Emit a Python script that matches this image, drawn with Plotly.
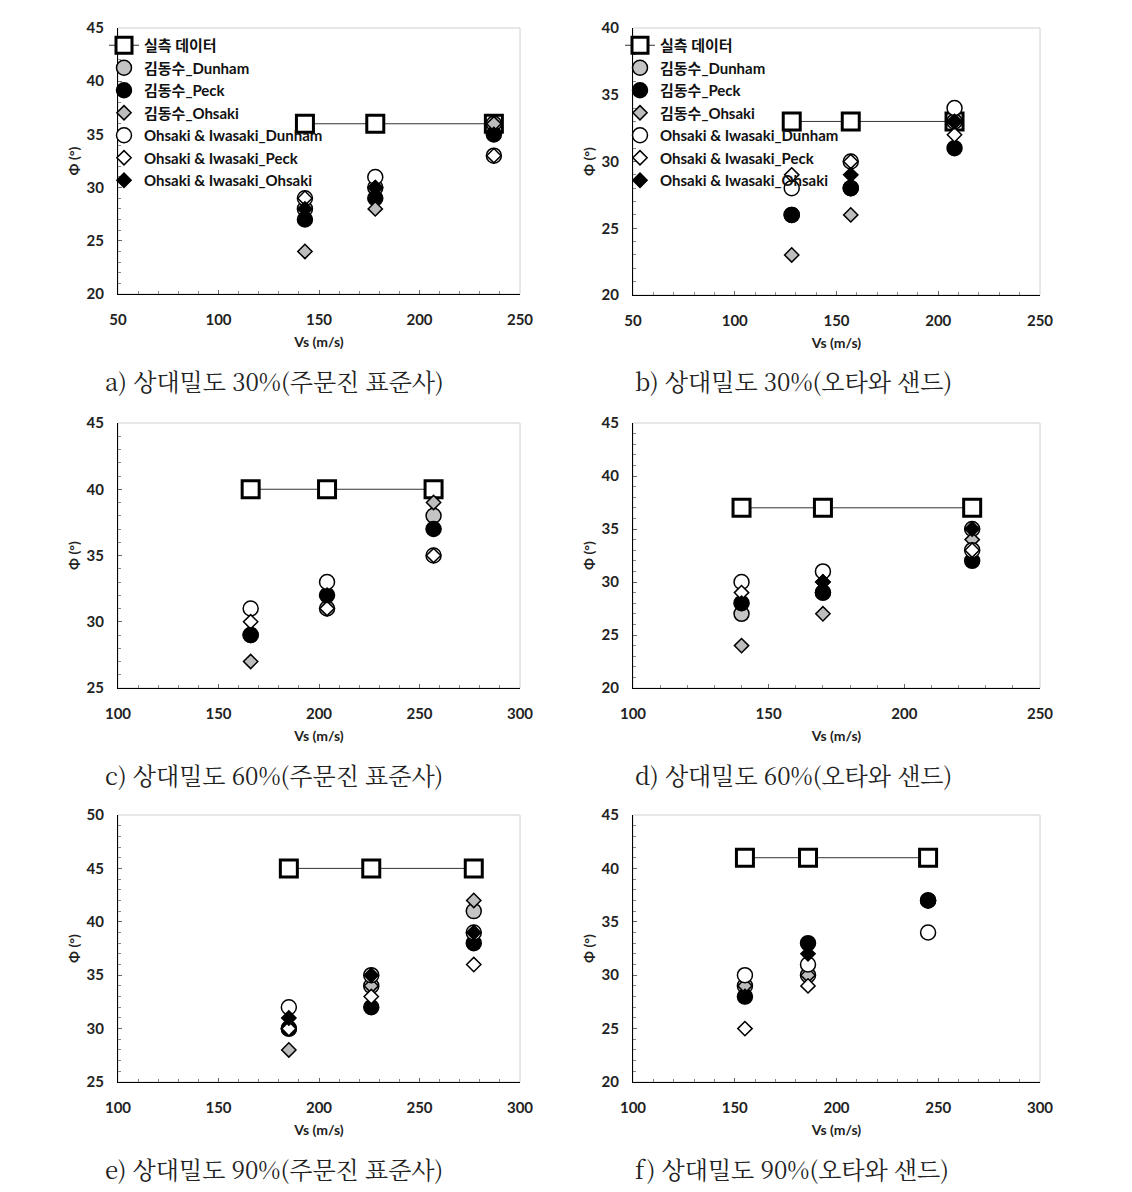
import plotly.graph_objects as go

series_names = ["실측 데이터", "김동수_Dunham", "김동수_Peck", "김동수_Ohsaki",
                "Ohsaki & Iwasaki_Dunham", "Ohsaki & Iwasaki_Peck", "Ohsaki & Iwasaki_Ohsaki"]

# a) Dr 30% Jumunjin
vs_a = [143, 178, 237]
phi_a = [[36, 36, 36], [28, 30, 36], [27, 29, 35], [24, 28, 36],
         [29, 31, 33], [29, 30, 33], [28, 30, 35]]
# b) Dr 30% Ottawa
vs_b = [128, 157, 208]
phi_b = [[33, 33, 33], [26, 28, 33], [26, 28, 31], [23, 26, 33],
         [28, 30, 34], [29, 30, 32], [26, 29, 33]]
# c) Dr 60% Jumunjin
vs_c = [166, 204, 257]
phi_c = [[40, 40, 40], [29, 31, 38], [29, 32, 37], [27, 31, 39],
         [31, 33, 35], [30, 31, 35], [29, 32, 37]]
# d) Dr 60% Ottawa
vs_d = [140, 170, 225]
phi_d = [[37, 37, 37], [27, 29, 35], [28, 29, 32], [24, 27, 34],
         [30, 31, 33], [29, 30, 33], [28, 30, 35]]
# e) Dr 90% Jumunjin
vs_e = [185, 226, 277]
phi_e = [[45, 45, 45], [30, 34, 41], [30, 32, 38], [28, 34, 42],
         [32, 35, 39], [30, 33, 36], [31, 35, 39]]
# f) Dr 90% Ottawa
vs_f = [155, 186, 245]
phi_f = [[41, 41, 41], [29, 30, 37], [28, 33, 37], [29, 30, 37],
         [30, 31, 34], [25, 29, 37], [28, 32, 37]]

captions = ["a) 상대밀도 30%(주문진 표준사)", "b) 상대밀도 30%(오타와 샌드)",
            "c) 상대밀도 60%(주문진 표준사)", "d) 상대밀도 60%(오타와 샌드)",
            "e) 상대밀도 90%(주문진 표준사)", "f) 상대밀도 90%(오타와 샌드)"]

W, H = 1132, 1192
OFF = 8  # page body margin


def fx(px):
    return (px - OFF) / W


def fy(px):
    return 1 - (px - OFF) / H


styles = [
    dict(symbol="square", color="white", size=17, lw=3),
    dict(symbol="circle", color="#c4c4c4", size=15, lw=1.5),
    dict(symbol="circle", color="black", size=15, lw=1.5),
    dict(symbol="diamond", color="#bdbdbd", size=11, lw=1.5),
    dict(symbol="circle", color="white", size=15, lw=1.5),
    dict(symbol="diamond", color="white", size=11, lw=1.5),
    dict(symbol="diamond", color="black", size=11, lw=1.5),
]

panels = [
    dict(vs=vs_a, phi=phi_a, xr=[50, 250], yr=[20, 45], box=(118, 520, 28, 294), cap_x=103),
    dict(vs=vs_b, phi=phi_b, xr=[50, 250], yr=[20, 40], box=(633, 1040, 28, 295), cap_x=633),
    dict(vs=vs_c, phi=phi_c, xr=[100, 300], yr=[25, 45], box=(118, 520, 423, 688), cap_x=103),
    dict(vs=vs_d, phi=phi_d, xr=[100, 250], yr=[20, 45], box=(633, 1040, 423, 688), cap_x=633),
    dict(vs=vs_e, phi=phi_e, xr=[100, 300], yr=[25, 50], box=(118, 520, 815, 1082), cap_x=103),
    dict(vs=vs_f, phi=phi_f, xr=[100, 300], yr=[20, 45], box=(633, 1040, 815, 1082), cap_x=633),
]

tick_font = dict(family="Lato, Noto Sans CJK KR", size=15, color="#222", weight="bold")
title_font = dict(family="Lato, Noto Sans CJK KR", size=14, color="#222", weight="bold")

fig = go.Figure()

for i, p in enumerate(panels):
    n = "" if i == 0 else str(i + 1)
    xa, ya = "x" + n, "y" + n
    for j, name in enumerate(series_names):
        st = styles[j]
        fig.add_trace(go.Scatter(
            x=p["vs"], y=p["phi"][j], xaxis=xa, yaxis=ya, name=name,
            mode="lines+markers" if j == 0 else "markers",
            line=dict(color="#333", width=1),
            marker=dict(symbol=st["symbol"], size=st["size"], color=st["color"],
                        line=dict(color="black", width=st["lw"])),
            showlegend=(i < 2),
            legend="legend" if i == 0 else "legend2",
            cliponaxis=False,
        ))
    x0, x1, y0, y1 = p["box"]
    fig.layout["xaxis" + n] = dict(
        domain=[fx(x0), fx(x1)], anchor=ya, range=p["xr"], dtick=50, automargin=False,
        showline=True, linecolor="black", linewidth=1, showgrid=False, zeroline=False,
        ticks="inside", ticklen=4, tickcolor="#666", ticklabelstandoff=12,
        minor=dict(ticks="inside", dtick=10, ticklen=3, tickcolor="#888"),
        tickfont=tick_font,
        title=dict(text="Vs (m/s)", font=title_font, standoff=10),
    )
    fig.layout["yaxis" + n] = dict(
        domain=[fy(y1), fy(y0)], anchor=xa, range=p["yr"], dtick=5, automargin=False,
        showline=True, linecolor="black", linewidth=1, showgrid=False, zeroline=False,
        ticks="inside", ticklen=4, tickcolor="#666", ticklabelstandoff=10,
        minor=dict(ticks="inside", dtick=1, ticklen=3, tickcolor="#888"),
        tickfont=tick_font,
        title=dict(text="Φ (°)", font=title_font, standoff=3),
    )
    fig.add_shape(type="rect", xref=xa + " domain", yref=ya + " domain",
                  x0=0, x1=1, y0=0, y1=1, line=dict(color="#d0d0d0", width=1),
                  layer="below")
    fig.add_annotation(text=captions[i], xref="paper", yref="paper",
                       x=fx(p["cap_x"]), y=fy(y1 + 86),
                       xanchor="left", yanchor="middle", showarrow=False,
                       font=dict(family="Noto Serif CJK KR, Noto Sans CJK KR", size=24, color="#222"))

legend_style = dict(bgcolor="rgba(0,0,0,0)", borderwidth=0, tracegroupgap=0,
                    font=dict(family="Lato, Noto Sans CJK KR", size=15, color="#111", weight="bold"),
                    xanchor="left", yanchor="top", itemwidth=30)
fig.update_layout(
    width=W, height=H, margin=dict(l=0, r=0, t=0, b=0, autoexpand=False),
    paper_bgcolor="white", plot_bgcolor="white",
    legend=dict(x=fx(104), y=fy(29), **legend_style),
    legend2=dict(x=fx(620), y=fy(29), **legend_style),
)

fig.write_html("out.html")
